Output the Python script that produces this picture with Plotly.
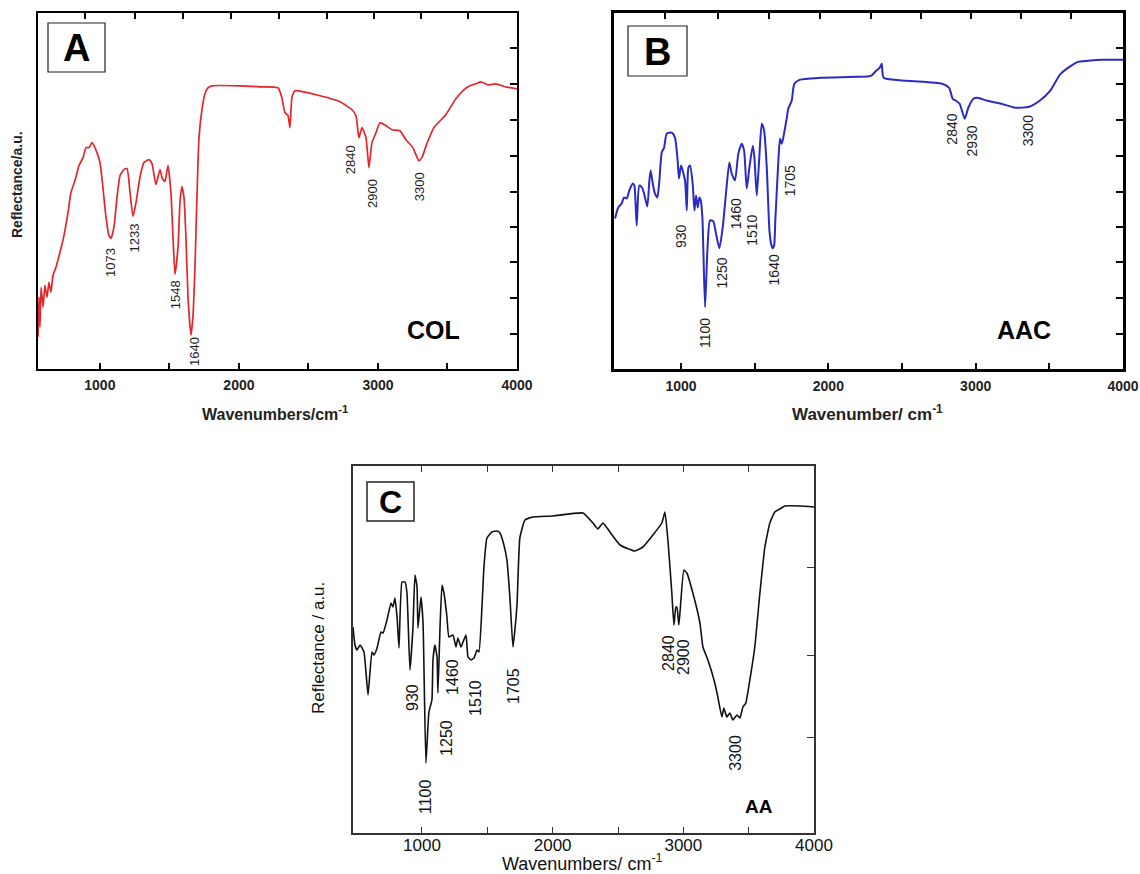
import plotly.graph_objects as go

# ---------------- Panel A (COL) ----------------
wn_A = [555, 562, 569, 577, 591, 605, 620, 634, 648, 663, 684, 713, 742, 771, 792, 821, 850, 879, 900, 922,
        943, 958, 979, 1001, 1022, 1044, 1065, 1080, 1101, 1123, 1145, 1173, 1195, 1217, 1238, 1260, 1288, 1317,
        1353, 1375, 1403, 1432, 1447, 1468, 1490, 1511, 1526, 1540, 1562, 1576, 1590, 1605, 1619, 1634, 1655,
        1669, 1684, 1698, 1713, 1734, 1756, 1777, 1806, 2007, 2151, 2281, 2309, 2331, 2353, 2367, 2381, 2403,
        2583, 2727, 2813, 2842, 2863, 2885, 2914, 2935, 2957, 2986, 3014, 3058, 3100, 3158, 3201, 3251, 3294,
        3316, 3352, 3402, 3488, 3560, 3618, 3661, 3704, 3740, 3791, 3848, 3913, 4000]
refl_A = [32, 72, 42, 82, 62, 84, 72, 87, 77, 94, 102, 117, 134, 157, 177, 189, 204, 212, 222, 222,
          227, 224, 217, 207, 182, 152, 134, 131, 142, 172, 194, 200, 201, 177, 153, 167, 192, 207,
          210, 206, 185, 200, 192, 188, 204, 177, 132, 95, 122, 167, 183, 172, 132, 72, 34,
          52, 102, 172, 232, 260, 276, 282, 284, 284, 283, 282, 272, 257, 254, 242, 272, 279,
          274, 268, 260, 254, 232, 242, 232, 202, 227, 237, 247, 244, 240, 239, 230, 222, 209,
          212, 226, 242, 255, 271, 280, 284, 286, 288, 285, 286, 283, 281]
peak_txt_A = ["1073", "1233", "1548", "1640", "2840", "2900", "3300"]
peak_wn_A = [1077, 1246, 1541, 1677, 2803, 2960, 3300]
peak_y_A = [107, 131, 74, 17, 210, 176, 183]

# ---------------- Panel B (AAC) ----------------
wn_B = [552, 574, 597, 613, 631, 649, 672, 683, 699, 717, 735, 749, 771, 785, 794, 808, 823, 839, 853, 869,
        885, 903, 937, 959, 977, 986, 1000, 1027, 1039, 1050, 1061, 1079, 1091, 1102, 1113, 1124, 1134, 1145,
        1163, 1179, 1197, 1219, 1237, 1260, 1283, 1305, 1328, 1344, 1366, 1389, 1412, 1428, 1446, 1464, 1487,
        1498, 1514, 1530, 1548, 1564, 1582, 1600, 1612, 1622, 1632, 1640, 1660, 1672, 1683, 1694, 1717, 1728,
        1751, 1769, 1804, 1946, 2182, 2289, 2324, 2348, 2362, 2376, 2537, 2773, 2820, 2844, 2867, 2891, 2926,
        2950, 2985, 3009, 3080, 3174, 3269, 3363, 3434, 3505, 3576, 3647, 3694, 3765, 3860, 4000]
refl_B = [151, 162, 166, 172, 171, 179, 186, 184, 144, 184, 182, 176, 163, 189, 199, 186, 176, 172, 189, 217,
          222, 236, 237, 232, 209, 191, 204, 189, 159, 202, 204, 186, 159, 174, 162, 172, 169, 152,
          62, 119, 149, 148, 136, 121, 142, 176, 207, 196, 189, 216, 226, 219, 181, 202, 224,
          212, 174, 209, 246, 239, 202, 139, 125, 121, 124, 149, 207, 231, 226, 232, 251, 261,
          269, 286, 290, 292, 293, 294, 299, 302, 306, 292, 289, 286, 282, 271, 269, 266, 251,
          262, 271, 272, 269, 266, 262, 263, 269, 279, 296, 304, 308, 309, 310, 310]
peak_txt_B = ["930", "1100", "1250", "1460", "1510", "1640", "1705", "2840", "2930", "3300"]
peak_wn_B = [1004, 1162, 1280, 1379, 1485, 1632, 1738, 2839, 2974, 3352]
peak_y_B = [133, 36, 96, 156, 139, 99, 189, 241, 229, 239]

# ---------------- Panel C (AA) ----------------
wn_C = [472, 487, 503, 526, 556, 587, 617, 633, 656, 686, 702, 732, 763, 778, 793, 809, 824, 847, 870, 885,
        908, 931, 946, 962, 969, 992, 1008, 1030, 1053, 1076, 1084, 1099, 1115, 1122, 1138, 1153, 1168, 1191,
        1206, 1237, 1260, 1275, 1298, 1314, 1337, 1352, 1375, 1398, 1421, 1436, 1459, 1474, 1497, 1535, 1574,
        1597, 1627, 1650, 1673, 1696, 1711, 1727, 1749, 1788, 1849, 2002, 2232, 2308, 2346, 2385, 2438, 2515,
        2629, 2691, 2767, 2836, 2859, 2882, 2912, 2928, 2943, 2951, 2966, 3004, 3027, 3073, 3127, 3150, 3188,
        3241, 3264, 3295, 3310, 3333, 3356, 3379, 3410, 3433, 3456, 3478, 3509, 3547, 3586, 3624, 3662, 3700,
        3738, 3777, 3891, 4000]
refl_C = [206, 188, 183, 188, 181, 138, 181, 178, 185, 201, 200, 213, 230, 226, 235, 216, 185, 251, 251, 240,
          163, 206, 258, 246, 205, 236, 210, 70, 121, 133, 173, 188, 176, 140, 206, 248, 240, 216,
          196, 198, 186, 195, 186, 191, 198, 176, 173, 175, 183, 181, 226, 266, 295, 301, 302,
          300, 288, 273, 235, 186, 203, 228, 295, 313, 316, 317, 320, 310, 304, 310, 301, 288,
          282, 286, 298, 310, 321, 293, 240, 208, 226, 226, 208, 263, 260, 240, 210, 186, 173,
          150, 136, 116, 125, 116, 120, 113, 118, 115, 126, 130, 153, 186, 240, 286, 310, 321,
          324, 327, 327, 326]
peak_txt_C = ["930", "1100", "1250", "1460", "1510", "1705", "2840", "2900", "3300"]
peak_wn_C = [923, 1023, 1183, 1229, 1405, 1696, 2882, 2997, 3394]
peak_y_C = [136, 36, 95, 156, 135, 147, 180, 176, 80]

major_ticks = [1000, 2000, 3000, 4000]
minor_ticks = [1500, 2500, 3500]
top_ticks_AB = [890, 1250, 1600, 1945, 2290, 2630, 2970, 3310, 3650]
right_ticks_AB = [35, 71, 107, 142, 178, 214, 250, 286, 322]
right_ticks_C = [96, 178, 266]

FONT = "Liberation Sans, Arial, sans-serif"
W, H = 1140, 874


def px(x):
    return x / W


def py(y):
    return 1 - y / H


fig = go.Figure()
fig.add_trace(go.Scatter(x=wn_A, y=refl_A, mode="lines",
                         line=dict(color="#e3262b", width=1.7, shape="spline", smoothing=0.5),
                         xaxis="x", yaxis="y", showlegend=False, hoverinfo="skip"))
fig.add_trace(go.Scatter(x=wn_B, y=refl_B, mode="lines",
                         line=dict(color="#2a2ac4", width=2, shape="spline", smoothing=0.6),
                         xaxis="x2", yaxis="y2", showlegend=False, hoverinfo="skip"))
fig.add_trace(go.Scatter(x=wn_C, y=refl_C, mode="lines",
                         line=dict(color="#111111", width=1.6, shape="spline", smoothing=0.4),
                         xaxis="x3", yaxis="y3", showlegend=False, hoverinfo="skip"))
# carriers for top-tick overlay axes
fig.add_trace(go.Scatter(x=[None], y=[None], xaxis="x4", yaxis="y", showlegend=False, hoverinfo="skip"))
fig.add_trace(go.Scatter(x=[None], y=[None], xaxis="x5", yaxis="y2", showlegend=False, hoverinfo="skip"))


def xax(domain, rng, anchor, lw, font, standoff, tw=2, color="black"):
    return dict(domain=domain, range=rng, anchor=anchor, tickmode="array", tickvals=major_ticks,
                ticks="inside", ticklen=6, tickwidth=tw, tickcolor=color,
                minor=dict(tickmode="array", tickvals=minor_ticks, ticks="inside", ticklen=6,
                           tickwidth=tw, tickcolor=color),
                ticklabelstandoff=standoff, automargin=False,
                showline=True, linewidth=lw, linecolor=color, mirror=True, showgrid=False,
                zeroline=False, tickfont=font, fixedrange=True)


def yax(domain, rng, anchor, lw, tv, tw=2, color="black"):
    return dict(domain=domain, range=rng, anchor=anchor, side="right", tickmode="array", tickvals=tv,
                ticks="inside", ticklen=7, tickwidth=tw, tickcolor=color, showticklabels=False,
                automargin=False,
                showline=True, linewidth=lw, linecolor=color, mirror=True, showgrid=False,
                zeroline=False, fixedrange=True)


def topax(domain, rng, over):
    return dict(domain=domain, range=rng, overlaying=over, side="top", tickmode="array",
                tickvals=top_ticks_AB, ticks="inside", ticklen=6, tickwidth=2, tickcolor="black",
                showticklabels=False, showline=False, showgrid=False, zeroline=False, fixedrange=True,
                automargin=False)


boldfont = dict(family=FONT, size=14, color="#222", weight="bold")
regfont = dict(family=FONT, size=17, color="#111")

dA = [px(38), px(517)]
dB = [px(614), px(1123)]
dC = [px(353), px(814)]
yAB = [py(369), py(13)]
yC = [py(833), py(466)]

xc = xax(dC, [472, 4000], "y3", 1.5, regfont, -4, 1.2, "#333")
xc["mirror"] = "ticks"

fig.update_layout(
    width=W, height=H, autosize=False,
    margin=dict(l=0, r=0, t=0, b=0, pad=0, autoexpand=False),
    paper_bgcolor="white", plot_bgcolor="white",
    xaxis=xax(dA, [555, 4000], "y", 2, boldfont, 2),
    yaxis=yax(yAB, [0, 357], "x", 2, right_ticks_AB),
    xaxis2=xax(dB, [545, 4000], "y2", 2.5, boldfont, 2),
    yaxis2=yax(yAB, [0, 357], "x2", 2.5, right_ticks_AB),
    xaxis3=xc,
    yaxis3=yax(yC, [0, 367], "x3", 1.5, right_ticks_C, 1.2, "#333"),
    xaxis4=topax(dA, [555, 4000], "x"),
    xaxis5=topax(dB, [545, 4000], "x2"),
)

ann = []
for t, w, v in zip(peak_txt_A, peak_wn_A, peak_y_A):
    ann.append(dict(x=w, y=v, xref="x", yref="y", text=t, showarrow=False, textangle=-90,
                    font=dict(family=FONT, size=13, color="#1e1e1e")))
for t, w, v in zip(peak_txt_B, peak_wn_B, peak_y_B):
    ann.append(dict(x=w, y=v, xref="x2", yref="y2", text=t, showarrow=False, textangle=-90,
                    font=dict(family=FONT, size=14, color="#1a1a1a")))
for t, w, v in zip(peak_txt_C, peak_wn_C, peak_y_C):
    ann.append(dict(x=w, y=v, xref="x3", yref="y3", text=t, showarrow=False, textangle=-90,
                    font=dict(family=FONT, size=16, color="#111")))


def pa(x, y, text, size, bold=False, angle=0, color="#111"):
    return dict(x=px(x), y=py(y), xref="paper", yref="paper", text=text, showarrow=False,
                textangle=angle, xanchor="center", yanchor="middle",
                font=dict(family=FONT, size=size, color=color, weight="bold" if bold else "normal"))


ann += [
    pa(17, 185, "Reflectance/a.u.", 14, True, -90, "#222"),
    pa(275, 413, "Wavenumbers/cm<sup>-1</sup>", 16, True, 0, "#222"),
    pa(867, 413, "Wavenumber/ cm<sup>-1</sup>", 17, True, 0, "#222"),
    pa(318, 648, "Reflectance / a.u.", 17, False, -90),
    pa(582, 862, "Wavenumbers/ cm<sup>-1</sup>", 18, False, 0),
    pa(76, 48, "A", 38, True, 0, "black"),
    pa(657, 52, "B", 38, True, 0, "black"),
    pa(390, 502, "C", 32, True, 0, "black"),
    pa(433, 330, "COL", 25, True, 0, "black"),
    pa(1024, 330, "AAC", 25, True, 0, "black"),
    pa(759, 806, "AA", 19, True, 0, "black"),
]
fig.update_layout(annotations=ann)


def box(x0, y0, x1, y1, w=1.2):
    return dict(type="rect", xref="paper", yref="paper", x0=px(x0), x1=px(x1),
                y0=py(y1), y1=py(y0), line=dict(color="#222", width=w), fillcolor="white",
                layer="below")


fig.update_layout(shapes=[box(48, 23, 105, 72), box(628, 26, 687, 76), box(367, 482, 414, 521, 1.5)])

# remove the default page margin so the figure sits exactly in the 1140x874 window
page_fix = ("document.documentElement.style.margin='0';document.body.style.margin='0';"
            "document.documentElement.style.overflow='hidden';document.body.style.overflow='hidden';")
fig.write_html("out.html", post_script=page_fix, config={"displayModeBar": False})
